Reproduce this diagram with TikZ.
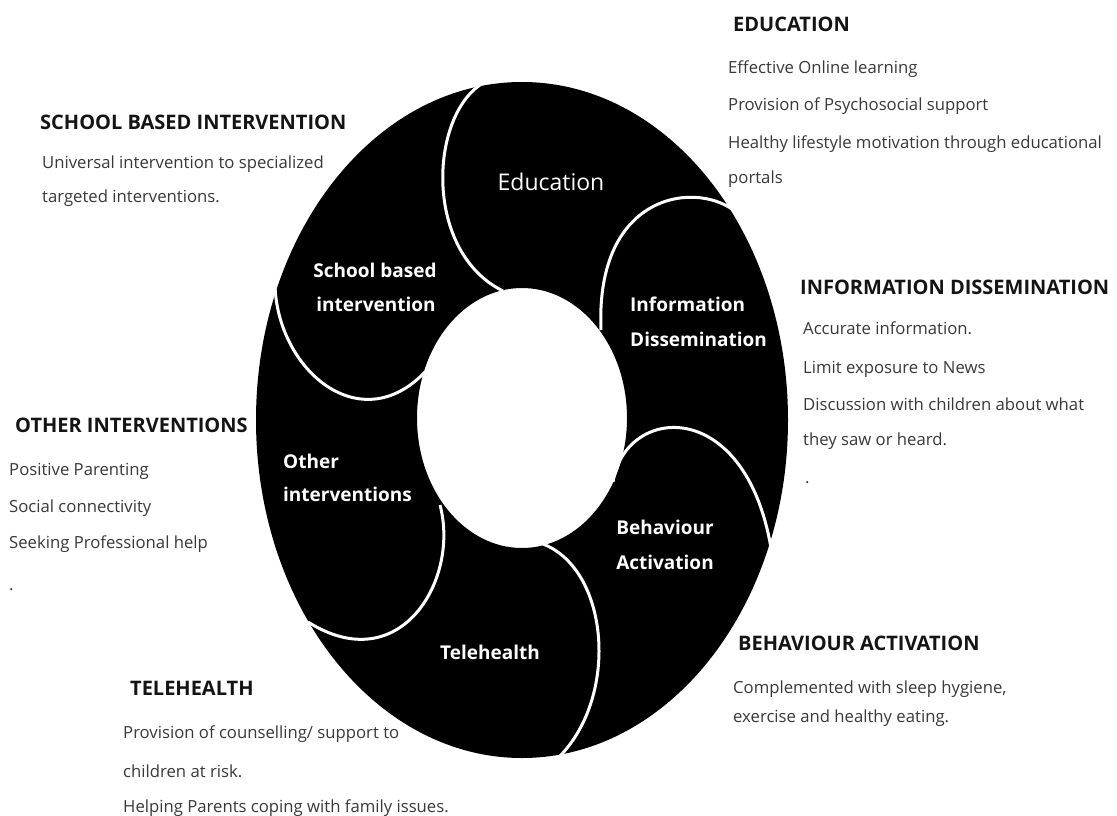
\documentclass[tikz,border=0pt]{standalone}
\usepackage{fontspec}
\setmainfont{Open Sans}
\begin{document}
\begin{tikzpicture}[x=1pt,y=-1pt,
  title/.style={font=\fontsize{20}{24}\selectfont\bfseries, text=black!92, inner sep=0pt, anchor=base west},
  desc/.style={font=\fontsize{16.7}{20}\selectfont, text=black!78, inner sep=0pt, anchor=base west},
  seg/.style={font=\fontsize{19}{23}\selectfont\bfseries, text=white, inner sep=0pt, anchor=base},
  segl/.style={seg, anchor=base west},
  sep/.style={draw=white, line width=3pt}]
\useasboundingbox (0,0) rectangle (1117,816);
% ring
\fill[black, even odd rule] (522,420) ellipse [x radius=266, y radius=338]
  (522,418) ellipse [x radius=105, y radius=130];
% white separators
\draw[sep] (489,80) .. controls (430,105) and (420,250) .. (503,291);
\draw[sep] (737,213) .. controls (700,180) and (595,190) .. (601,330);
\draw[sep] (613,482) .. controls (625,405) and (745,395) .. (771,548);
\draw[sep] (543,544) .. controls (610,570) and (620,700) .. (556,760);
\draw[sep] (440,505) .. controls (460,580) and (400,680) .. (308,622);
\draw[sep] (275,286) .. controls (278,370) and (360,440) .. (425,372);
% segment labels
\node[seg, font=\fontsize{23}{27}\selectfont] (sEdu) at (551,190) {Education};
\node[seg] (sSch1) at (375,277.5) {School based};
\node[seg] (sSch2) at (376,311.5) {intervention};
\node[segl] (sInf1) at (630,311.5) {Information};
\node[segl] (sInf2) at (630,346.5) {Dissemination};
\node[segl] (sOth1) at (283,468.5) {Other};
\node[segl] (sOth2) at (283,501.5) {interventions};
\node[seg] (sBeh1) at (665,534.5) {Behaviour};
\node[seg] (sBeh2) at (665,569.5) {Activation};
\node[seg] (sTel) at (490,659.5) {Telehealth};
% school based
\node[title] (tSch) at (40,129) {SCHOOL BASED INTERVENTION};
\node[desc] (dSch1) at (42,168.5) {Universal intervention to specialized};
\node[desc] (dSch2) at (42,202.5) {targeted interventions.};
% education
\node[title] (tEdu) at (733,32) {EDUCATION};
\node[desc] (dEdu1) at (728,73.5) {Effective Online learning};
\node[desc] (dEdu2) at (728,110.5) {Provision of Psychosocial support};
\node[desc] (dEdu3) at (728,148.5) {Healthy lifestyle motivation through educational};
\node[desc] (dEdu4) at (728,183.5) {portals};
% information
\node[title] (tInf) at (800,294) {INFORMATION DISSEMINATION};
\node[desc] (dInf1) at (803,334.5) {Accurate information.};
\node[desc] (dInf2) at (803,373.5) {Limit exposure to News};
\node[desc] (dInf3) at (803,410.5) {Discussion with children about what};
\node[desc] (dInf4) at (803,445.5) {they saw or heard.};
\node[desc] (dInf5) at (805,483) {.};
% other
\node[title] (tOth) at (15,432) {OTHER INTERVENTIONS};
\node[desc] (dOth1) at (9,475.5) {Positive Parenting};
\node[desc] (dOth2) at (9,512.5) {Social connectivity};
\node[desc] (dOth3) at (9,548.5) {Seeking Professional help};
\node[desc] (dOth4) at (9,590) {.};
% telehealth
\node[title] (tTel) at (130,695) {TELEHEALTH};
\node[desc] (dTel1) at (123,738.5) {Provision of counselling/ support to};
\node[desc] (dTel2) at (123,777.5) {children at risk.};
\node[desc] (dTel3) at (123,812) {Helping Parents coping with family issues.};
% behaviour
\node[title] (tBeh) at (738,650) {BEHAVIOUR ACTIVATION};
\node[desc] (dBeh1) at (733,693.5) {Complemented with sleep hygiene,};
\node[desc] (dBeh2) at (733,722.5) {exercise and healthy eating.};
\end{tikzpicture}
\end{document}
